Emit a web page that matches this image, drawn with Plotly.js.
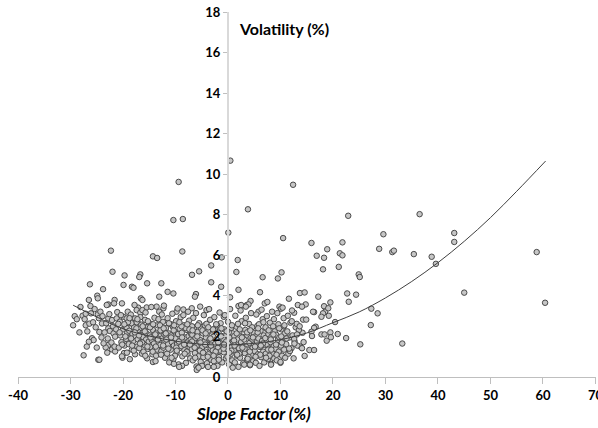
<!DOCTYPE html>
<html>
<head>
<meta charset="utf-8">
<script src="https://cdn.plot.ly/plotly-3.0.1.min.js"></script>
<style>html,body{margin:0;padding:0;background:#fff;}#chart{width:598px;height:428px;}</style>
</head>
<body>
<div id="chart"></div>
<script>
// ---- Sparse / outlying points (read individually) ----
const sparseSlopeA = [0.45,-9.4,12.4,3.8,-10.4,-8.6,0.06,22.9,36.5,29.6,43.1,43.1,10.5,15.9,21.8,18.9,28.8,31.3,31.6,35.4,38.8,39.6,58.8,16.9,18.3,21.3,21.8,18.1,21.1,24.9,25.1,45.0,60.4,33.2];
const sparseVolA   = [10.67,9.62,9.48,8.27,7.74,7.79,7.12,7.95,8.03,7.04,7.1,6.66,6.85,6.61,6.64,6.3,6.32,6.16,6.23,6.06,5.93,5.58,6.16,5.98,5.88,6.1,6.0,5.31,5.43,5.06,4.93,4.16,3.66,1.65];

const sparseSlopeB = [-22.3,-14.3,-13.5,-8.7,-1.2,-22.0,-19.7,-16.7,-16.9,-6.85,-5.5,-3.2,1.85,1.6,10.2,9.5,6.6,-3.2,-1.3,2.0];
const sparseVolB   = [6.23,5.95,5.87,6.19,5.9,5.19,5.01,5.06,4.93,5.04,5.21,5.5,5.77,5.18,5.16,4.86,4.92,4.67,4.45,4.3];

const sparseSlopeC = [-26.3,-19.9,-18.3,-18.0,-23.8,-15.4,-12.7,-24.9,-24.8,-26.5,-21.6,-22.8,-20.2,-16.6,-16.3,-11.5,-10.4,-13.1,-6.1,-6.3,0.4];
const sparseVolC   = [4.57,4.54,4.45,4.4,4.33,4.62,4.62,4.01,3.88,3.8,3.8,3.58,3.63,3.88,3.8,4.2,4.12,3.96,4.09,3.96,3.93];

const sparseSlopeD = [6.1,13.7,14.6,17.2,11.6,22.7,24.4,23.0,14.8,19.5,18.3,16.4,18.5,18.1,19.2,17.8,14.3,14.9,20.4,27.3,28.5,27.2,16.7,16.4,15.9,14.2,17.8,18.4,19.5,20.9,16.0,19.6,18.8,22.5,15.5,16.4,14.6,25.2,13.8,14.1];
const sparseVolD   = [4.18,4.14,4.17,3.96,3.86,4.12,4.06,3.71,3.58,3.68,3.49,3.2,3.22,3.14,3.02,2.97,2.83,2.83,2.71,3.37,3.14,2.56,2.48,2.42,2.23,2.18,2.1,2.1,2.2,2.12,2.02,1.96,1.79,1.92,1.33,1.33,1.04,1.61,1.5,1.42];

const sparseSlopeE = [4.3,3.6,3.9,2.0,7.0,7.5,9.8,10.1,5.8,13.3,14.1,12.6,16.2,19.1,-21.7,-23.1,-17.1,-15.5,-13.6,-12.3,-9.8,-8.5,-6.9,-5.3,-4.1,-0.8,2.5,3.4];
const sparseVolE   = [3.75,3.55,3.58,3.5,3.63,3.7,3.47,3.37,3.22,3.55,3.47,3.17,3.22,3.39,3.63,3.55,3.42,3.43,3.47,3.39,3.22,3.33,3.39,3.47,3.3,2.97,3.55,3.47];

const leftSlope = [-29.2,-27.7,-27.1,-26.1,-24.8,-24.3,-27.1,-26.4,-24.0,-24.5,-25.9,-25.6,-26.5,-27.5,-24.7,-20.1,-22.1,-21.5,-22.8,-23.3,-23.7,-22.8,-22.5,-21.8,-21.5,-22.8,-22.1,-21.2,-20.6,-19.9,-19.3,-18.6,-17.7,-17.4,-16.7,-16.3,-19.0,-18.0,-17.1,-16.1];
const leftVol   = [3.0,3.02,3.12,3.14,3.09,3.22,2.55,2.63,2.64,2.22,1.91,1.82,1.74,1.07,0.85,0.95,1.36,1.26,1.58,1.46,1.66,2.4,2.27,2.15,1.99,2.89,2.81,2.89,2.73,2.97,2.89,2.81,2.89,3.3,3.17,3.3,2.64,2.56,2.64,2.48];

// ---- Dense cluster (estimated strip by strip) ----
const denseSlope = [
 -29.5,-28.8,-28.1,-28.3,-27.3,-26.8,-26.2,-25.7,-25.2,-25.0,-24.6,-24.1,-23.9,-23.5,-23.2,-22.9,-22.6,-22.2,-21.9,-21.6,-21.3,-21.1,-23.0,-26.9,-25.4,-24.5,-14.3,
 -20.8,-20.5,-20.3,-20.0,-19.8,-19.6,-19.4,-19.2,-19.1,-20.9,-20.4,-19.7,-20.2,-19.3,
 -18.9,-18.8,-18.6,-18.5,-18.3,-18.2,-18.0,-17.9,-17.7,-17.6,-17.4,-17.3,-17.2,-18.7,-17.8,-18.4,-17.1,
 -16.9,-16.8,-16.6,-16.5,-16.4,-16.2,-16.0,-15.9,-15.8,-15.6,-15.5,-15.4,-15.3,-15.2,-16.7,-15.7,-16.1,-15.1,
 -14.9,-14.8,-14.7,-14.5,-14.4,-14.3,-14.1,-14.0,-13.9,-13.8,-13.6,-13.5,-13.4,-13.2,-13.1,-14.6,-13.7,-14.2,-13.3,
 -12.9,-12.8,-12.7,-12.5,-12.4,-12.3,-12.1,-12.0,-11.9,-11.8,-11.6,-11.5,-11.4,-11.3,-11.2,-11.1,-12.6,-12.2,-11.7,-12.95,
 -10.9,-10.8,-10.7,-10.5,-10.4,-10.3,-10.2,-10.0,-9.9,-9.8,-9.7,-9.5,-9.4,-9.3,-9.2,-9.1,-10.6,-9.6,-10.1,-9.0,-10.85,
 -8.9,-8.8,-8.7,-8.6,-8.4,-8.3,-8.2,-8.0,-7.9,-7.8,-7.7,-7.5,-7.4,-7.3,-7.2,-7.1,-8.5,-7.6,-8.1,-7.0,-8.75,
 -6.9,-6.8,-6.7,-6.5,-6.4,-6.3,-6.2,-6.0,-5.9,-5.8,-5.7,-5.6,-5.5,-5.4,-5.3,-5.1,-6.6,-6.1,-5.2,-5.05,-6.85,-5.95,
 -4.9,-4.8,-4.7,-4.5,-4.4,-4.3,-4.2,-4.0,-3.9,-3.8,-3.7,-3.5,-3.4,-3.3,-3.2,-3.1,-4.6,-3.6,-4.1,-3.05,-4.95,
 -2.9,-2.8,-2.7,-2.5,-2.4,-2.3,-2.2,-2.0,-1.9,-1.8,-1.7,-1.5,-1.4,-1.3,-1.2,-1.1,-2.6,-1.6,-2.1,-1.05,
 -0.9,-0.8,-0.7,-0.5,-0.4,-0.3,-0.2,0.0,0.1,0.2,0.3,0.5,0.6,0.7,0.8,0.9,-0.6,0.4,-0.1,0.95,
 1.1,1.2,1.3,1.5,1.6,1.7,1.8,2.0,2.1,2.2,2.3,2.5,2.6,2.7,2.8,2.9,1.4,2.4,1.9,2.95,
 3.1,3.2,3.3,3.5,3.6,3.7,3.8,4.0,4.1,4.2,4.3,4.5,4.6,4.7,4.8,4.9,3.4,4.4,3.9,4.95,
 5.1,5.2,5.3,5.5,5.6,5.7,5.8,6.0,6.1,6.2,6.3,6.5,6.6,6.7,6.8,6.9,5.4,6.4,5.9,6.95,
 7.1,7.2,7.3,7.5,7.6,7.7,7.8,8.0,8.1,8.2,8.3,8.5,8.6,8.7,8.8,8.9,7.4,8.4,7.9,
 9.1,9.2,9.3,9.5,9.6,9.7,9.8,10.0,10.1,10.2,10.3,10.5,10.6,10.7,10.8,10.9,9.4,10.4,
 11.1,11.3,11.5,11.7,11.9,12.1,12.3,12.5,12.7,12.9,11.4,12.2,11.8,12.6,13.2,13.5,13.1,14.4,
 -10.3,-9.3,-5.6,-3.8,-2.7,0.9,3.1,4.2,8.2,10.0
];
const denseVol = [
 2.55,2.85,3.45,2.2,2.85,2.25,3.5,2.7,2.45,1.45,2.9,1.95,3.0,2.2,2.65,1.9,3.1,1.7,2.5,1.5,2.35,3.2,1.2,1.5,3.35,0.85,0.74,
 1.45,2.05,1.72,2.35,1.18,2.52,1.88,2.18,3.22,2.62,3.05,1.55,1.02,2.42,
 1.62,2.28,1.95,3.08,1.35,2.12,1.78,2.46,1.12,2.02,2.7,1.5,1.86,0.88,3.55,2.65,2.22,
 1.42,2.08,1.72,2.58,1.15,1.98,2.35,1.58,2.82,1.85,2.15,0.92,1.38,2.48,2.95,3.18,1.25,1.75,
 2.05,1.48,2.62,1.82,1.12,2.32,1.65,2.92,1.95,0.78,2.18,1.35,2.55,1.72,3.22,3.45,1.05,2.0,1.9,
 1.58,2.25,1.28,1.92,2.72,1.45,2.08,0.95,1.75,2.42,1.15,2.9,1.62,2.15,0.72,1.88,3.08,3.52,2.0,2.55,
 1.35,2.05,1.72,2.48,0.88,1.55,2.25,1.9,2.75,1.18,1.62,2.12,0.62,1.42,2.38,1.8,3.12,3.38,1.05,2.95,2.6,
 1.52,2.18,1.02,1.78,2.55,1.32,1.95,0.7,1.65,2.32,1.15,2.02,2.78,1.45,0.92,1.85,3.05,3.22,2.42,2.12,0.55,
 1.38,2.08,0.82,1.72,2.45,1.18,1.92,0.52,1.55,2.22,0.46,1.02,2.65,1.35,1.82,2.38,2.92,3.15,0.75,1.6,2.5,0.35,
 1.48,2.15,0.98,1.75,2.55,1.25,1.95,0.68,1.58,2.28,1.12,1.85,2.82,1.42,0.85,2.05,3.05,3.35,2.62,1.68,0.55,
 1.32,1.98,0.78,1.62,2.42,1.15,1.85,0.55,1.45,2.18,0.98,1.72,2.65,1.28,2.02,0.72,2.95,3.18,2.55,1.55,
 1.88,1.22,2.35,1.55,0.92,2.08,1.38,2.72,1.65,0.62,1.95,1.12,2.42,1.48,0.82,2.15,3.05,3.35,1.0,1.75,
 1.32,2.02,0.72,1.68,2.48,1.05,1.85,0.5,1.42,2.25,0.95,1.72,2.75,1.22,1.98,0.68,3.02,3.28,2.62,1.52,
 1.85,1.18,2.32,1.52,0.85,2.05,1.35,2.62,1.68,0.58,1.92,1.08,2.45,1.45,0.78,2.18,2.92,3.15,1.0,1.62,
 1.28,2.0,0.7,1.75,2.52,1.12,1.9,0.55,1.48,2.28,0.98,1.78,2.85,1.25,2.05,0.72,3.08,3.32,2.6,1.58,
 1.92,1.15,2.38,1.58,0.88,2.12,1.4,2.68,1.72,0.65,2.0,1.18,2.5,1.52,0.92,2.25,3.0,3.22,1.05,
 1.38,2.08,0.82,1.82,2.6,1.22,1.95,0.7,1.55,2.35,1.05,1.85,2.9,1.35,2.15,0.95,3.15,3.42,
 1.62,2.25,1.15,1.95,2.68,1.42,2.05,0.92,1.75,2.45,3.02,3.28,1.28,1.88,1.55,2.32,2.62,1.72,
 0.65,0.5,0.46,0.5,0.5,0.46,0.61,0.61,0.61,0.74
];

// extra overlapping points in the core of the cloud
const coreSlopeA = [-20.65,-20.15,-19.55,-19.05,-18.45,-17.95,-17.45,-16.95,-16.35,-15.85,-15.35,-14.85,-14.35,-13.85,-13.35,-12.85,-12.35,-11.85,-11.35,-10.85,-10.35,-9.85,-9.35,-8.85,-8.35,-7.85,-7.35,-6.85,-6.35,-5.85,-5.35,-4.85,-4.35,-3.85,-3.35,-2.85,-2.35,-1.85,-1.35,-0.85,-0.35,0.15,0.65,1.15,1.65,2.15,2.65,3.15,3.65,4.15,4.65,5.15,5.65,6.15,6.65,7.15,7.65,8.15,8.65,9.15,9.65,10.15,10.65,11.15,11.65,12.15,12.65,13.15,13.65];
const coreVolA   = [2.2,1.6,2.0,2.7,1.9,1.3,2.4,2.05,1.7,2.25,1.5,2.45,1.25,2.1,1.85,2.3,1.55,2.15,1.4,1.95,2.3,1.45,1.75,2.5,1.6,1.25,2.35,1.75,1.45,2.0,1.3,2.3,1.6,1.0,1.9,2.35,1.25,1.7,2.0,1.4,1.75,2.2,1.3,1.8,2.15,1.15,1.95,1.4,2.2,1.25,1.85,1.5,2.2,1.1,1.65,2.45,1.35,1.85,2.1,1.6,1.25,2.0,2.5,1.9,1.4,2.75,1.65,2.1,2.5];
const coreSlopeB = [-19.75,-19.25,-18.75,-18.25,-17.75,-17.25,-16.75,-16.25,-15.75,-15.25,-14.75,-14.25,-13.75,-13.25,-12.75,-12.25,-11.75,-11.25,-10.75,-10.25,-9.75,-9.25,-8.75,-8.25,-7.75,-7.25,-6.75,-6.25,-5.75,-5.25,-4.75,-4.25,-3.75,-3.25,-2.75,-2.25,-1.75,-1.25,-0.75,-0.25,0.25,0.75,1.25,1.75,2.25,2.75,3.25,3.75,4.25,4.75,5.25,5.75,6.25,6.75,7.25,7.75,8.25,8.75,9.25,9.75,10.25,10.75];
const coreVolB   = [2.6,1.2,2.9,1.55,2.2,2.85,1.65,2.5,1.05,2.75,1.95,2.6,1.5,2.85,1.1,2.4,1.85,2.65,0.95,2.55,1.3,2.7,1.95,1.15,2.6,1.6,2.3,0.95,2.55,1.7,1.2,2.15,2.45,1.55,1.05,2.6,0.85,2.4,1.6,2.25,1.2,2.55,1.55,1.1,2.35,1.45,2.65,0.9,2.3,1.95,1.0,2.4,1.55,2.7,0.95,2.3,1.35,2.85,1.1,2.4,1.7,2.55];

// ---- Trend line ----
const trendSlope = [-29.5,-25,-20,-15,-10,-5,0,5,10,15,20,25,30,35,40,45,50,55,60.5];
const trendVol   = [3.54,2.96,2.38,2.02,1.77,1.61,1.58,1.66,1.84,2.17,2.68,3.21,3.9,4.71,5.64,6.69,7.86,9.16,10.65];

// ---- Axis ticks ----
const xTicks = [-40,-30,-20,-10,0,10,20,30,40,50,60,70];
const yTicks = [0,2,4,6,8,10,12,14,16,18];

const allX = [].concat(sparseSlopeA, sparseSlopeB, sparseSlopeC, sparseSlopeD, sparseSlopeE, leftSlope, denseSlope, coreSlopeA, coreSlopeB);
const allY = [].concat(sparseVolA, sparseVolB, sparseVolC, sparseVolD, sparseVolE, leftVol, denseVol, coreVolA, coreVolB);

const FONT = 'Lato, "Open Sans", sans-serif';
const tickFont = {family: FONT, size: 13, color: '#000', weight: 'bold'};

const traces = [
  {type: 'scatter', mode: 'markers', x: allX, y: allY,
   marker: {size: 5.5, color: '#c6c6c6', line: {color: '#4a4a4a', width: 1}},
   hoverinfo: 'skip'},
  {type: 'scatter', mode: 'lines', x: trendSlope, y: trendVol,
   line: {color: '#404040', width: 1, shape: 'spline'}, hoverinfo: 'skip'}
];

const layout = {
  width: 598, height: 428,
  margin: {l: 18, r: 2, t: 12, b: 51},
  paper_bgcolor: '#ffffff', plot_bgcolor: '#ffffff',
  showlegend: false,
  xaxis: {
    range: [-40, 70.1], tickmode: 'array', tickvals: xTicks, ticktext: xTicks.map(String),
    showgrid: false, zeroline: false, showline: true, linecolor: '#bfbfbf', linewidth: 1,
    ticks: 'outside', ticklen: 6, tickcolor: '#bfbfbf', tickfont: tickFont,
    ticklabeloverflow: 'allow', automargin: false
  },
  yaxis: {
    range: [0, 18], tickmode: 'array', tickvals: yTicks, ticktext: yTicks.map(String),
    anchor: 'free', position: 40 / 110.1,
    showgrid: false, zeroline: false, showline: true, linecolor: '#d9d9d9', linewidth: 2,
    ticks: 'outside', ticklen: 4, tickcolor: '#bfbfbf', tickfont: tickFont
  },
  annotations: [
    {text: 'Volatility (%)', xref: 'x', yref: 'y', x: 1.7, y: 17.2, xanchor: 'left', yanchor: 'middle',
     showarrow: false, font: {family: FONT, size: 16, color: '#000', weight: 'bold'}},
    {text: 'Slope Factor (%)', xref: 'x', yref: 'paper', x: 4.9, y: -0.099, xanchor: 'center', yanchor: 'middle',
     showarrow: false, font: {family: FONT, size: 17, color: '#000', weight: 'bold', style: 'italic'}}
  ]
};

Plotly.newPlot('chart', traces, layout, {displayModeBar: false, staticPlot: true});
</script>
</body>
</html>
